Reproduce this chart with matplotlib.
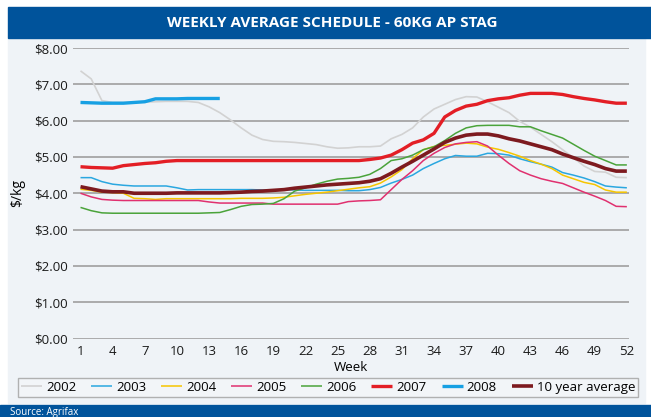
import matplotlib
matplotlib.use("Agg")
import matplotlib.pyplot as plt
import matplotlib.patches as mpatches
from matplotlib.ticker import FuncFormatter

# --- data ($/kg by week) ---
weeks = list(range(1, 53))
y2002 = [7.37, 7.15, 6.55, 6.50, 6.50, 6.50, 6.51, 6.52, 6.53, 6.53, 6.53, 6.50,
         6.38, 6.22, 6.02, 5.80, 5.60, 5.48, 5.43, 5.42, 5.40, 5.37, 5.34, 5.28,
         5.24, 5.25, 5.28, 5.28, 5.30, 5.50, 5.62, 5.80, 6.10, 6.32, 6.45, 6.58,
         6.66, 6.65, 6.52, 6.37, 6.22, 5.98, 5.82, 5.62, 5.42, 5.20, 4.98, 4.75,
         4.60, 4.58, 4.44, 4.43]
y2003 = [4.43, 4.43, 4.32, 4.25, 4.22, 4.20, 4.20, 4.20, 4.20, 4.15, 4.09, 4.10,
         4.10, 4.10, 4.10, 4.10, 4.10, 4.09, 4.09, 4.10, 4.09, 4.08, 4.08, 4.08,
         4.08, 4.07, 4.07, 4.10, 4.16, 4.28, 4.38, 4.50, 4.68, 4.82, 4.95, 5.04,
         5.02, 5.02, 5.10, 5.09, 5.05, 4.95, 4.87, 4.80, 4.72, 4.57, 4.50, 4.42,
         4.32, 4.20, 4.17, 4.15]
y2004 = [4.11, 4.08, 4.03, 4.02, 4.00, 3.86, 3.85, 3.83, 3.85, 3.85, 3.85, 3.85,
         3.85, 3.85, 3.85, 3.86, 3.86, 3.86, 3.87, 3.89, 3.93, 3.97, 4.00, 4.03,
         4.07, 4.11, 4.15, 4.18, 4.28, 4.45, 4.65, 4.95, 5.20, 5.29, 5.32, 5.35,
         5.38, 5.36, 5.27, 5.21, 5.12, 5.02, 4.90, 4.80, 4.68, 4.50, 4.40, 4.30,
         4.24, 4.09, 4.03, 4.03]
y2005 = [4.00, 3.90, 3.83, 3.81, 3.80, 3.80, 3.80, 3.80, 3.80, 3.80, 3.80, 3.80,
         3.76, 3.73, 3.73, 3.73, 3.73, 3.73, 3.70, 3.70, 3.70, 3.70, 3.70, 3.70,
         3.70, 3.77, 3.79, 3.80, 3.82, 4.10, 4.38, 4.62, 4.90, 5.10, 5.26, 5.36,
         5.40, 5.42, 5.30, 5.05, 4.82, 4.62, 4.50, 4.40, 4.33, 4.27, 4.15, 4.03,
         3.92, 3.80, 3.64, 3.63]
y2006 = [3.61, 3.52, 3.46, 3.45, 3.45, 3.45, 3.45, 3.45, 3.45, 3.45, 3.45, 3.45,
         3.46, 3.47, 3.55, 3.64, 3.69, 3.70, 3.72, 3.85, 4.06, 4.15, 4.25, 4.33,
         4.39, 4.41, 4.44, 4.52, 4.68, 4.90, 4.95, 5.05, 5.20, 5.28, 5.45, 5.65,
         5.80, 5.86, 5.87, 5.87, 5.87, 5.83, 5.83, 5.72, 5.62, 5.52, 5.35, 5.18,
         5.02, 4.90, 4.78, 4.78]
y2007 = [4.73, 4.71, 4.70, 4.69, 4.76, 4.79, 4.82, 4.84, 4.88, 4.90, 4.90, 4.90,
         4.90, 4.90, 4.90, 4.90, 4.90, 4.90, 4.90, 4.90, 4.90, 4.90, 4.90, 4.90,
         4.90, 4.90, 4.90, 4.93, 4.97, 5.05, 5.20, 5.38, 5.47, 5.65, 6.10, 6.28,
         6.40, 6.45, 6.55, 6.60, 6.63, 6.70, 6.75, 6.75, 6.75, 6.72, 6.66, 6.61,
         6.57, 6.52, 6.48, 6.48]
y2008 = [6.50, 6.49, 6.48, 6.48, 6.48, 6.50, 6.52, 6.60, 6.60, 6.60, 6.61, 6.61,
         6.61, 6.61]
y_avg = [4.18, 4.12, 4.06, 4.04, 4.04, 4.00, 4.00, 4.00, 4.00, 4.01, 4.01, 4.01,
         4.01, 4.01, 4.02, 4.03, 4.05, 4.06, 4.08, 4.10, 4.14, 4.17, 4.20, 4.23,
         4.25, 4.27, 4.29, 4.33, 4.40, 4.55, 4.72, 4.88, 5.05, 5.22, 5.40, 5.52,
         5.60, 5.63, 5.63, 5.58, 5.50, 5.44, 5.36, 5.28, 5.20, 5.08, 4.98, 4.88,
         4.79, 4.68, 4.61, 4.61]
xticks = list(range(1, 53, 3))
yticks = [0, 1, 2, 3, 4, 5, 6, 7, 8]

BLUE = "#00539b"
series = [
    ("2002", y2002, "#d2d2d2", 1.2),
    ("2003", y2003, "#2aa7e0", 1.1),
    ("2004", y2004, "#f6c500", 1.1),
    ("2005", y2005, "#e0306f", 1.1),
    ("2006", y2006, "#4aa33a", 1.1),
    ("2007", y2007, "#e31e25", 2.4),
    ("2008", y2008, "#17a0e3", 2.4),
    ("10 year average", y_avg, "#7d1a1f", 2.6),
]

plt.rcParams["font.family"] = ["Open Sans", "DejaVu Sans"]

fig = plt.figure(figsize=(6.51, 4.17), dpi=100)
fig.patch.set_facecolor("white")

# panel background + banners, drawn in a background axes
bg = fig.add_axes([0, 0, 1, 1], zorder=-1)
bg.set_xlim(0, 651)
bg.set_ylim(0, 417)
bg.axis("off")
bg.add_patch(mpatches.Rectangle((8, 14), 637, 365, color="#eff3f7"))
bg.add_patch(mpatches.Rectangle((8, 379), 643, 31, color=BLUE))
bg.add_patch(mpatches.Rectangle((0, 0), 651, 12, color=BLUE))
bg.text(332, 394.5, "WEEKLY AVERAGE SCHEDULE - 60KG AP STAG", color="white",
        fontsize=11, fontweight="bold", ha="center", va="center")
bg.text(10, 5, "Source: Agrifax", color="white", fontsize=7, ha="left", va="center")

ax = fig.add_axes([73 / 651, 78.5 / 417, 556 / 651, 290.5 / 417], zorder=2)
ax.set_facecolor("none")
for s in ax.spines.values():
    s.set_visible(False)

for label, vals, color, lw in series:
    ax.plot(weeks[:len(vals)], vals, color=color, lw=lw, label=label,
            solid_capstyle="butt", zorder=3)

ax.set_xlim(0.3, 52.2)
ax.set_ylim(0, 8)
ax.set_yticks(yticks)
ax.yaxis.set_major_formatter(FuncFormatter(lambda v, p: f"${v:.2f}"))
ax.set_xticks(xticks)
ax.tick_params(length=0, labelsize=9.5, colors="#1a1a1a")
ax.tick_params(axis="y", pad=4)
ax.tick_params(axis="x", pad=5)
ax.grid(axis="y", color="#ababab", lw=1.4, zorder=1)
ax.set_axisbelow(True)
ax.set_xlabel("Week", fontsize=9.5, labelpad=2)
ax.set_ylabel("$/kg", fontsize=10, labelpad=6)

leg = fig.legend(loc="center", ncol=8, fontsize=9.5, frameon=True, fancybox=False,
                 handlelength=1.6, handletextpad=0.3, columnspacing=1.5,
                 borderpad=0.25, mode="expand",
                 bbox_to_anchor=(11 / 651, 20 / 417, 634 / 651, 19 / 417),
                 bbox_transform=fig.transFigure)
leg.get_frame().set_edgecolor("#a0a0a0")
leg.get_frame().set_facecolor("#f3f6f9")
leg.get_frame().set_linewidth(1.0)

fig.savefig("out.png", dpi=100)
